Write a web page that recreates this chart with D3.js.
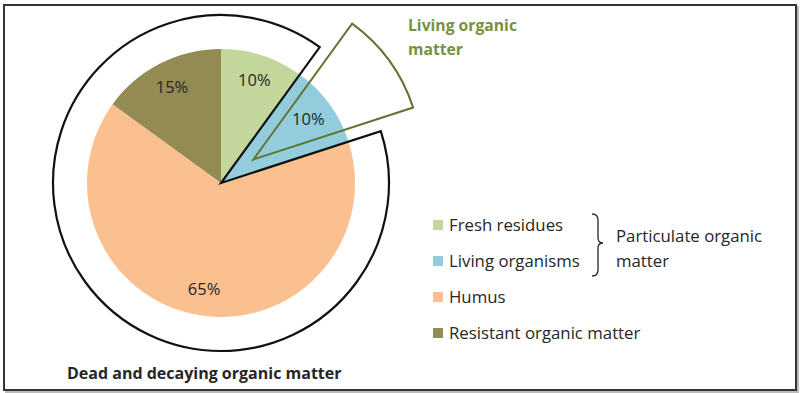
<!DOCTYPE html>
<meta charset="utf-8">
<style>
body { margin: 0; background: #fff; }
svg text { font-family: "Open Sans", "Liberation Sans", sans-serif; fill: #262626; }
.title { font-weight: bold; }
</style>
<body>
<div id="chart"></div>
<script src="https://d3js.org/d3.v7.min.js"></script>
<script>

// data
var categories = ["Fresh residues", "Living organisms", "Humus", "Resistant organic matter"];
var shares     = [10, 10, 65, 15];
var colors     = ["#c3d69b", "#93cddd", "#fac090", "#948a54"];
var bracketLabel = ["Particulate organic", "matter"];
var livingLabel  = ["Living organic", "matter"];
var deadLabel    = "Dead and decaying organic matter";

var width = 800, height = 393;
var cx = 221, cy = 183, r = 134, rOuter = 168;

var svg = d3.select("#chart").append("svg")
    .attr("width", width)
    .attr("height", height);

// frame with a light shadow
svg.append("rect")
    .attr("x", 6).attr("y", 7).attr("width", 792).attr("height", 385)
    .attr("fill", "none").attr("stroke", "#bbb").attr("stroke-width", 2);
svg.append("rect")
    .attr("x", 4).attr("y", 5).attr("width", 792).attr("height", 385)
    .attr("fill", "#fff").attr("stroke", "#333").attr("stroke-width", 2);

var pie = d3.pie().sort(null).value(d => d)(shares);

var arc = d3.arc().innerRadius(0).outerRadius(r);
var labelArc = d3.arc().innerRadius(108).outerRadius(108);

var g = svg.append("g")
    .attr("transform", "translate(" + cx + "," + cy + ")");

g.selectAll(".slice")
    .data(pie)
    .enter().append("path")
    .attr("class", "slice")
    .attr("d", arc)
    .attr("fill", (d, i) => colors[i]);

g.selectAll(".pct")
    .data(pie)
    .enter().append("text")
    .attr("class", "pct")
    .attr("transform", d => "translate(" + labelArc.centroid(d) + ")")
    .attr("text-anchor", "middle")
    .attr("dy", "0.35em")
    .style("font-size", "16.5px")
    .text(d => d.data + "%");

// outline round the dead part: everything except the living organisms slice
var living = pie[1];
var outline = d3.arc().innerRadius(0).outerRadius(rOuter);
g.append("path")
    .attr("d", outline({startAngle: living.endAngle, endAngle: living.startAngle + 2 * Math.PI}))
    .attr("fill", "none")
    .attr("stroke", "#111")
    .attr("stroke-width", 2.2)
    .attr("stroke-linejoin", "miter");

// pulled out wedge for living matter
var mid = (living.startAngle + living.endAngle) / 2, pull = 40;
g.append("path")
    .attr("transform", "translate(" + (pull * Math.sin(mid)) + "," + (-pull * Math.cos(mid)) + ")")
    .attr("d", outline(living))
    .attr("fill", "none")
    .attr("stroke", "#5f7530")
    .attr("stroke-width", 2);

// titles
svg.append("text")
    .attr("class", "title")
    .attr("x", 408).attr("y", 26)
    .style("font-size", "15.7px")
    .style("fill", "#76923c")
    .selectAll("tspan")
    .data(livingLabel)
    .enter().append("tspan")
    .attr("x", 408)
    .attr("dy", (d, i) => i ? 24 : 5)
    .text(d => d);

svg.append("text")
    .attr("class", "title")
    .attr("x", 67).attr("y", 379)
    .style("font-size", "16px")
    .text(deadLabel);

// legend
var legend = svg.append("g")
    .attr("transform", "translate(433,225)");

var rows = legend.selectAll(".row")
    .data(categories)
    .enter().append("g")
    .attr("class", "row")
    .attr("transform", (d, i) => "translate(0," + i * 36 + ")");

rows.append("rect")
    .attr("x", 0).attr("y", -5)
    .attr("width", 10).attr("height", 10)
    .attr("fill", (d, i) => colors[i]);

rows.append("text")
    .attr("x", 16)
    .attr("dy", "0.35em")
    .style("font-size", "16.8px")
    .text(d => d);

// bracket round the first two entries
svg.append("path")
    .attr("d", "M592,214 Q598,214 598,220 L598,238 Q598,243 603,243 Q598,243 598,248 L598,270 Q598,276 592,276")
    .attr("fill", "none")
    .attr("stroke", "#262626")
    .attr("stroke-width", 1.3);

svg.append("text")
    .attr("x", 616).attr("y", 237)
    .style("font-size", "16.8px")
    .selectAll("tspan")
    .data(bracketLabel)
    .enter().append("tspan")
    .attr("x", 616)
    .attr("dy", (d, i) => i ? 25 : 5)
    .text(d => d);

</script>
